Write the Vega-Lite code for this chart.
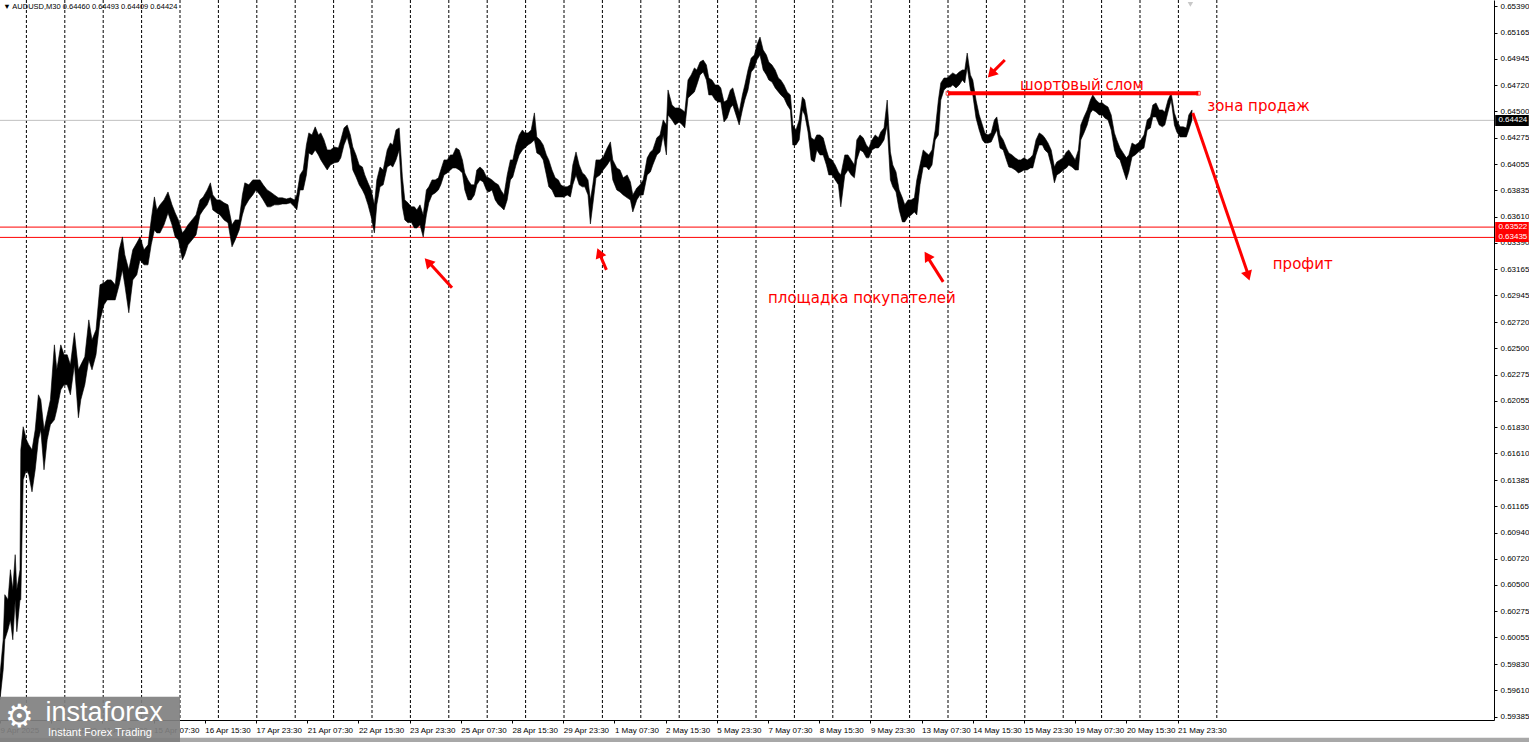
{
"$schema":"https://vega.github.io/schema/vega-lite/v6.json",
"width":1494,"height":720,
"autosize":{"type":"none"},
"padding":{"left":0,"top":0,"right":35,"bottom":22},
"background":"white",
"view":{"stroke":null},
"config":{"font":"Liberation Sans","axis":{"labelOverlap":false,"labelBound":false,"labelFlush":false}},
"datasets":{
"price":[
{"b":0,"hi":0.5974,"lo":0.59529},{"b":4,"hi":0.60035,"lo":0.59782},{"b":6,"hi":0.60416,"lo":0.60035},{"b":10,"hi":0.60373,"lo":0.6012},{"b":13,"hi":0.60627,"lo":0.60204},{"b":16,"hi":0.60458,"lo":0.60035},{"b":19,"hi":0.60754,"lo":0.60373},{"b":21,"hi":0.60458,"lo":0.60103},{"b":25,"hi":0.60627,"lo":0.60373},{"b":26,"hi":0.6164,"lo":0.60373},{"b":29,"hi":0.61835,"lo":0.61387},{"b":33,"hi":0.61725,"lo":0.61471},{"b":36,"hi":0.61683,"lo":0.61429},{"b":40,"hi":0.6164,"lo":0.61285},{"b":44,"hi":0.61809,"lo":0.61471},{"b":48,"hi":0.62105,"lo":0.61725},{"b":51,"hi":0.62063,"lo":0.61809},{"b":55,"hi":0.61809,"lo":0.61471},{"b":59,"hi":0.61936,"lo":0.61725},{"b":63,"hi":0.62063,"lo":0.61852},{"b":68,"hi":0.62527,"lo":0.61894},{"b":71,"hi":0.62316,"lo":0.61978},{"b":76,"hi":0.62527,"lo":0.62147},{"b":80,"hi":0.62443,"lo":0.6219},{"b":84,"hi":0.62443,"lo":0.6219},{"b":88,"hi":0.62358,"lo":0.62105},{"b":93,"hi":0.62629,"lo":0.62358},{"b":98,"hi":0.62316,"lo":0.61911},{"b":101,"hi":0.62358,"lo":0.62063},{"b":106,"hi":0.62426,"lo":0.6219},{"b":111,"hi":0.62738,"lo":0.624},{"b":115,"hi":0.62569,"lo":0.62316},{"b":120,"hi":0.62654,"lo":0.62443},{"b":125,"hi":0.63034,"lo":0.62738},{"b":130,"hi":0.63051,"lo":0.62865},{"b":134,"hi":0.63076,"lo":0.62907},{"b":139,"hi":0.63076,"lo":0.62907},{"b":144,"hi":0.63034,"lo":0.62907},{"b":149,"hi":0.6333,"lo":0.63034},{"b":153,"hi":0.63439,"lo":0.63161},{"b":156,"hi":0.63288,"lo":0.63034},{"b":161,"hi":0.63161,"lo":0.62798},{"b":166,"hi":0.6333,"lo":0.63076},{"b":171,"hi":0.63389,"lo":0.63119},{"b":175,"hi":0.63439,"lo":0.63245},{"b":180,"hi":0.6333,"lo":0.63203},{"b":185,"hi":0.63372,"lo":0.63203},{"b":189,"hi":0.63583,"lo":0.63372},{"b":193,"hi":0.63777,"lo":0.63498},{"b":196,"hi":0.63667,"lo":0.63473},{"b":200,"hi":0.6371,"lo":0.63473},{"b":205,"hi":0.63752,"lo":0.63541},{"b":210,"hi":0.63819,"lo":0.63642},{"b":215,"hi":0.6371,"lo":0.63541},{"b":219,"hi":0.63642,"lo":0.63439},{"b":223,"hi":0.63583,"lo":0.63414},{"b":228,"hi":0.63473,"lo":0.63245},{"b":231,"hi":0.63498,"lo":0.63288},{"b":235,"hi":0.63541,"lo":0.63372},{"b":240,"hi":0.63583,"lo":0.63414},{"b":245,"hi":0.63625,"lo":0.63456},{"b":250,"hi":0.63752,"lo":0.63625},{"b":254,"hi":0.63777,"lo":0.63667},{"b":259,"hi":0.63836,"lo":0.6371},{"b":263,"hi":0.63896,"lo":0.63777},{"b":266,"hi":0.63794,"lo":0.63667},{"b":271,"hi":0.63752,"lo":0.63642},{"b":275,"hi":0.63752,"lo":0.63625},{"b":280,"hi":0.63727,"lo":0.63583},{"b":285,"hi":0.6371,"lo":0.63558},{"b":290,"hi":0.63541,"lo":0.63355},{"b":294,"hi":0.63583,"lo":0.63414},{"b":299,"hi":0.63583,"lo":0.63498},{"b":303,"hi":0.63794,"lo":0.63625},{"b":306,"hi":0.63896,"lo":0.63693},{"b":311,"hi":0.63879,"lo":0.63752},{"b":316,"hi":0.63921,"lo":0.63794},{"b":320,"hi":0.63921,"lo":0.63836},{"b":325,"hi":0.63921,"lo":0.63794},{"b":329,"hi":0.63879,"lo":0.63752},{"b":334,"hi":0.63836,"lo":0.63693},{"b":338,"hi":0.63819,"lo":0.63693},{"b":343,"hi":0.63794,"lo":0.6371},{"b":348,"hi":0.63769,"lo":0.6371},{"b":353,"hi":0.63769,"lo":0.63718},{"b":358,"hi":0.6376,"lo":0.63718},{"b":363,"hi":0.63769,"lo":0.63727},{"b":368,"hi":0.63752,"lo":0.63693},{"b":371,"hi":0.63794,"lo":0.63667},{"b":375,"hi":0.63963,"lo":0.63836},{"b":379,"hi":0.64005,"lo":0.63836},{"b":383,"hi":0.64216,"lo":0.63963},{"b":386,"hi":0.64318,"lo":0.64149},{"b":390,"hi":0.64301,"lo":0.64132},{"b":394,"hi":0.64369,"lo":0.64174},{"b":398,"hi":0.64301,"lo":0.64132},{"b":401,"hi":0.64318,"lo":0.6409},{"b":405,"hi":0.64259,"lo":0.64047},{"b":409,"hi":0.64174,"lo":0.64005},{"b":413,"hi":0.64174,"lo":0.64047},{"b":418,"hi":0.64199,"lo":0.64065},{"b":423,"hi":0.64191,"lo":0.64073},{"b":426,"hi":0.64259,"lo":0.64107},{"b":430,"hi":0.6436,"lo":0.64216},{"b":434,"hi":0.64385,"lo":0.64284},{"b":438,"hi":0.64301,"lo":0.64174},{"b":441,"hi":0.64199,"lo":0.64005},{"b":445,"hi":0.64132,"lo":0.63946},{"b":449,"hi":0.64047,"lo":0.63879},{"b":453,"hi":0.6403,"lo":0.63836},{"b":456,"hi":0.63963,"lo":0.63794},{"b":460,"hi":0.63896,"lo":0.6371},{"b":464,"hi":0.63836,"lo":0.63608},{"b":468,"hi":0.6371,"lo":0.63473},{"b":471,"hi":0.63921,"lo":0.6371},{"b":475,"hi":0.6403,"lo":0.63862},{"b":479,"hi":0.64005,"lo":0.63879},{"b":484,"hi":0.64174,"lo":0.6403},{"b":488,"hi":0.64233,"lo":0.64047},{"b":491,"hi":0.64216,"lo":0.6403},{"b":495,"hi":0.64343,"lo":0.6409},{"b":499,"hi":0.6436,"lo":0.64174},{"b":503,"hi":0.63946,"lo":0.63693},{"b":506,"hi":0.63752,"lo":0.63583},{"b":510,"hi":0.63727,"lo":0.63558},{"b":514,"hi":0.63693,"lo":0.63566},{"b":518,"hi":0.63693,"lo":0.63515},{"b":521,"hi":0.63667,"lo":0.63515},{"b":525,"hi":0.6371,"lo":0.63541},{"b":529,"hi":0.63625,"lo":0.63439},{"b":533,"hi":0.63836,"lo":0.63625},{"b":536,"hi":0.63862,"lo":0.63727},{"b":540,"hi":0.63921,"lo":0.63794},{"b":544,"hi":0.63921,"lo":0.63811},{"b":548,"hi":0.63938,"lo":0.63836},{"b":551,"hi":0.64005,"lo":0.63879},{"b":555,"hi":0.6409,"lo":0.63963},{"b":559,"hi":0.6409,"lo":0.6398},{"b":563,"hi":0.64132,"lo":0.64005},{"b":566,"hi":0.64132,"lo":0.64022},{"b":570,"hi":0.64191,"lo":0.64022},{"b":574,"hi":0.64174,"lo":0.64005},{"b":578,"hi":0.6409,"lo":0.6398},{"b":581,"hi":0.6398,"lo":0.63836},{"b":585,"hi":0.63921,"lo":0.63752},{"b":589,"hi":0.63879,"lo":0.63752},{"b":593,"hi":0.63879,"lo":0.63794},{"b":596,"hi":0.64005,"lo":0.63879},{"b":600,"hi":0.6403,"lo":0.63921},{"b":604,"hi":0.64005,"lo":0.63904},{"b":608,"hi":0.63946,"lo":0.63836},{"b":611,"hi":0.63938,"lo":0.63819},{"b":615,"hi":0.63921,"lo":0.63836},{"b":619,"hi":0.63896,"lo":0.63752},{"b":623,"hi":0.63879,"lo":0.6371},{"b":626,"hi":0.63836,"lo":0.63693},{"b":630,"hi":0.63794,"lo":0.63667},{"b":634,"hi":0.63963,"lo":0.63752},{"b":638,"hi":0.6409,"lo":0.63921},{"b":641,"hi":0.6409,"lo":0.63946},{"b":645,"hi":0.64216,"lo":0.64047},{"b":649,"hi":0.64301,"lo":0.64132},{"b":653,"hi":0.64343,"lo":0.64174},{"b":656,"hi":0.64318,"lo":0.64191},{"b":660,"hi":0.64318,"lo":0.64216},{"b":664,"hi":0.64343,"lo":0.64233},{"b":668,"hi":0.64487,"lo":0.64259},{"b":671,"hi":0.64284,"lo":0.64149},{"b":675,"hi":0.64259,"lo":0.64132},{"b":679,"hi":0.64216,"lo":0.6409},{"b":683,"hi":0.64132,"lo":0.63963},{"b":686,"hi":0.6409,"lo":0.63862},{"b":690,"hi":0.64005,"lo":0.63836},{"b":694,"hi":0.63938,"lo":0.63777},{"b":698,"hi":0.63921,"lo":0.63777},{"b":701,"hi":0.63879,"lo":0.63777},{"b":705,"hi":0.63862,"lo":0.63777},{"b":709,"hi":0.63862,"lo":0.63794},{"b":713,"hi":0.63879,"lo":0.63777},{"b":716,"hi":0.64047,"lo":0.63879},{"b":720,"hi":0.64157,"lo":0.63963},{"b":724,"hi":0.64047,"lo":0.63879},{"b":728,"hi":0.6398,"lo":0.63862},{"b":731,"hi":0.63963,"lo":0.63862},{"b":735,"hi":0.63921,"lo":0.63794},{"b":738,"hi":0.63752,"lo":0.63549},{"b":741,"hi":0.63879,"lo":0.6371},{"b":745,"hi":0.6409,"lo":0.63938},{"b":750,"hi":0.6409,"lo":0.63963},{"b":754,"hi":0.64115,"lo":0.64005},{"b":759,"hi":0.64191,"lo":0.64047},{"b":763,"hi":0.64242,"lo":0.6409},{"b":766,"hi":0.6409,"lo":0.63921},{"b":771,"hi":0.64022,"lo":0.63836},{"b":775,"hi":0.64005,"lo":0.63819},{"b":779,"hi":0.63938,"lo":0.63794},{"b":784,"hi":0.63963,"lo":0.63769},{"b":788,"hi":0.63904,"lo":0.63752},{"b":791,"hi":0.63794,"lo":0.6365},{"b":796,"hi":0.63853,"lo":0.63752},{"b":800,"hi":0.63879,"lo":0.63794},{"b":804,"hi":0.63921,"lo":0.63794},{"b":809,"hi":0.64107,"lo":0.63963},{"b":813,"hi":0.64157,"lo":0.63988},{"b":816,"hi":0.64174,"lo":0.64047},{"b":821,"hi":0.64276,"lo":0.64132},{"b":825,"hi":0.64301,"lo":0.64157},{"b":829,"hi":0.64428,"lo":0.64301},{"b":833,"hi":0.64385,"lo":0.64132},{"b":835,"hi":0.64681,"lo":0.6447},{"b":840,"hi":0.64554,"lo":0.64428},{"b":844,"hi":0.64529,"lo":0.64385},{"b":849,"hi":0.64529,"lo":0.64411},{"b":853,"hi":0.64512,"lo":0.64385},{"b":856,"hi":0.64495,"lo":0.6436},{"b":860,"hi":0.64765,"lo":0.64613},{"b":864,"hi":0.64808,"lo":0.64639},{"b":868,"hi":0.64867,"lo":0.64664},{"b":871,"hi":0.6485,"lo":0.64723},{"b":875,"hi":0.64917,"lo":0.64808},{"b":879,"hi":0.64934,"lo":0.64833},{"b":883,"hi":0.64892,"lo":0.64765},{"b":886,"hi":0.64782,"lo":0.64639},{"b":890,"hi":0.64765,"lo":0.64639},{"b":894,"hi":0.64723,"lo":0.64596},{"b":898,"hi":0.64723,"lo":0.64579},{"b":901,"hi":0.64698,"lo":0.64579},{"b":905,"hi":0.64579,"lo":0.64411},{"b":909,"hi":0.64596,"lo":0.64444},{"b":913,"hi":0.64681,"lo":0.64529},{"b":916,"hi":0.64698,"lo":0.64554},{"b":920,"hi":0.64596,"lo":0.6447},{"b":924,"hi":0.64495,"lo":0.64385},{"b":928,"hi":0.64639,"lo":0.64512},{"b":931,"hi":0.64723,"lo":0.64596},{"b":935,"hi":0.6485,"lo":0.64681},{"b":939,"hi":0.64951,"lo":0.64833},{"b":943,"hi":0.64976,"lo":0.64867},{"b":946,"hi":0.65061,"lo":0.64934},{"b":950,"hi":0.65128,"lo":0.64976},{"b":954,"hi":0.65019,"lo":0.6485},{"b":958,"hi":0.64976,"lo":0.64808},{"b":961,"hi":0.64917,"lo":0.64765},{"b":965,"hi":0.64892,"lo":0.64748},{"b":969,"hi":0.6485,"lo":0.64698},{"b":973,"hi":0.64782,"lo":0.64664},{"b":976,"hi":0.64765,"lo":0.64639},{"b":980,"hi":0.64723,"lo":0.64613},{"b":984,"hi":0.64664,"lo":0.64554},{"b":988,"hi":0.64639,"lo":0.64512},{"b":991,"hi":0.64385,"lo":0.64216},{"b":995,"hi":0.64343,"lo":0.64216},{"b":999,"hi":0.64428,"lo":0.64259},{"b":1003,"hi":0.64622,"lo":0.64512},{"b":1006,"hi":0.64596,"lo":0.6447},{"b":1010,"hi":0.64428,"lo":0.64326},{"b":1014,"hi":0.64276,"lo":0.6409},{"b":1018,"hi":0.64259,"lo":0.64073},{"b":1021,"hi":0.64301,"lo":0.64174},{"b":1025,"hi":0.64301,"lo":0.64132},{"b":1029,"hi":0.64276,"lo":0.64132},{"b":1033,"hi":0.64174,"lo":0.64047},{"b":1036,"hi":0.64107,"lo":0.63963},{"b":1040,"hi":0.6409,"lo":0.63963},{"b":1044,"hi":0.64047,"lo":0.63921},{"b":1048,"hi":0.63988,"lo":0.63879},{"b":1051,"hi":0.63963,"lo":0.63693},{"b":1056,"hi":0.64132,"lo":0.63963},{"b":1060,"hi":0.64132,"lo":0.64005},{"b":1064,"hi":0.6409,"lo":0.63963},{"b":1068,"hi":0.64047,"lo":0.63938},{"b":1071,"hi":0.64259,"lo":0.6409},{"b":1075,"hi":0.64301,"lo":0.64174},{"b":1079,"hi":0.64276,"lo":0.64157},{"b":1083,"hi":0.64216,"lo":0.64107},{"b":1086,"hi":0.64191,"lo":0.64107},{"b":1090,"hi":0.64259,"lo":0.64174},{"b":1094,"hi":0.64301,"lo":0.64191},{"b":1098,"hi":0.64276,"lo":0.64191},{"b":1101,"hi":0.64326,"lo":0.64216},{"b":1105,"hi":0.6436,"lo":0.64259},{"b":1109,"hi":0.64596,"lo":0.64385},{"b":1113,"hi":0.64157,"lo":0.63921},{"b":1116,"hi":0.64047,"lo":0.63862},{"b":1120,"hi":0.63988,"lo":0.63819},{"b":1124,"hi":0.63836,"lo":0.63667},{"b":1128,"hi":0.63769,"lo":0.63566},{"b":1131,"hi":0.6371,"lo":0.63566},{"b":1135,"hi":0.63752,"lo":0.63608},{"b":1139,"hi":0.63752,"lo":0.63625},{"b":1143,"hi":0.63769,"lo":0.6365},{"b":1146,"hi":0.63921,"lo":0.63625},{"b":1150,"hi":0.64047,"lo":0.63879},{"b":1154,"hi":0.64174,"lo":0.6403},{"b":1158,"hi":0.64149,"lo":0.6403},{"b":1161,"hi":0.64132,"lo":0.64005},{"b":1165,"hi":0.64174,"lo":0.64047},{"b":1169,"hi":0.64343,"lo":0.64259},{"b":1173,"hi":0.64596,"lo":0.64301},{"b":1176,"hi":0.6474,"lo":0.64596},{"b":1180,"hi":0.64782,"lo":0.64681},{"b":1184,"hi":0.64782,"lo":0.64706},{"b":1188,"hi":0.64808,"lo":0.64706},{"b":1191,"hi":0.64825,"lo":0.64723},{"b":1195,"hi":0.64808,"lo":0.64698},{"b":1199,"hi":0.64833,"lo":0.64723},{"b":1203,"hi":0.6485,"lo":0.64765},{"b":1206,"hi":0.6485,"lo":0.6474},{"b":1209,"hi":0.64993,"lo":0.64875},{"b":1213,"hi":0.64808,"lo":0.64681},{"b":1216,"hi":0.64765,"lo":0.64639},{"b":1220,"hi":0.64596,"lo":0.64444},{"b":1224,"hi":0.6447,"lo":0.64343},{"b":1228,"hi":0.64385,"lo":0.64259},{"b":1231,"hi":0.64318,"lo":0.64233},{"b":1235,"hi":0.64301,"lo":0.64233},{"b":1239,"hi":0.64318,"lo":0.64242},{"b":1243,"hi":0.64428,"lo":0.64301},{"b":1246,"hi":0.64453,"lo":0.64343},{"b":1250,"hi":0.64301,"lo":0.64191},{"b":1254,"hi":0.64259,"lo":0.64174},{"b":1258,"hi":0.64191,"lo":0.6409},{"b":1261,"hi":0.64149,"lo":0.6403},{"b":1265,"hi":0.64132,"lo":0.64022},{"b":1269,"hi":0.64107,"lo":0.64005},{"b":1273,"hi":0.6409,"lo":0.6398},{"b":1276,"hi":0.6409,"lo":0.63988},{"b":1280,"hi":0.64107,"lo":0.64005},{"b":1284,"hi":0.6409,"lo":0.64005},{"b":1288,"hi":0.64107,"lo":0.64022},{"b":1291,"hi":0.64132,"lo":0.64022},{"b":1295,"hi":0.64259,"lo":0.64132},{"b":1299,"hi":0.64318,"lo":0.64216},{"b":1303,"hi":0.64301,"lo":0.64216},{"b":1306,"hi":0.64276,"lo":0.64174},{"b":1310,"hi":0.64233,"lo":0.64149},{"b":1314,"hi":0.64174,"lo":0.64047},{"b":1318,"hi":0.6403,"lo":0.63896},{"b":1321,"hi":0.64073,"lo":0.63963},{"b":1325,"hi":0.6409,"lo":0.6398},{"b":1329,"hi":0.64107,"lo":0.64005},{"b":1333,"hi":0.64157,"lo":0.64022},{"b":1336,"hi":0.64174,"lo":0.64047},{"b":1340,"hi":0.64132,"lo":0.6403},{"b":1344,"hi":0.6409,"lo":0.64005},{"b":1348,"hi":0.64174,"lo":0.64005},{"b":1351,"hi":0.64385,"lo":0.64259},{"b":1355,"hi":0.64453,"lo":0.64318},{"b":1359,"hi":0.64512,"lo":0.64385},{"b":1363,"hi":0.64596,"lo":0.64487},{"b":1366,"hi":0.64639,"lo":0.64512},{"b":1370,"hi":0.64596,"lo":0.64495},{"b":1374,"hi":0.64571,"lo":0.6447},{"b":1378,"hi":0.64571,"lo":0.6447},{"b":1381,"hi":0.64554,"lo":0.64444},{"b":1385,"hi":0.64537,"lo":0.64428},{"b":1389,"hi":0.6447,"lo":0.64343},{"b":1393,"hi":0.64318,"lo":0.64174},{"b":1396,"hi":0.64259,"lo":0.64115},{"b":1400,"hi":0.64191,"lo":0.6409},{"b":1404,"hi":0.64149,"lo":0.64005},{"b":1408,"hi":0.64107,"lo":0.63921},{"b":1411,"hi":0.64132,"lo":0.63988},{"b":1415,"hi":0.64233,"lo":0.64115},{"b":1419,"hi":0.64216,"lo":0.64132},{"b":1423,"hi":0.64233,"lo":0.64157},{"b":1426,"hi":0.64259,"lo":0.64174},{"b":1430,"hi":0.64301,"lo":0.64191},{"b":1434,"hi":0.64428,"lo":0.64343},{"b":1438,"hi":0.64453,"lo":0.6436},{"b":1441,"hi":0.64554,"lo":0.64453},{"b":1445,"hi":0.64571,"lo":0.64453},{"b":1449,"hi":0.64512,"lo":0.64385},{"b":1453,"hi":0.64512,"lo":0.64369},{"b":1456,"hi":0.64495,"lo":0.64385},{"b":1460,"hi":0.64596,"lo":0.64495},{"b":1464,"hi":0.64656,"lo":0.64596},{"b":1468,"hi":0.64487,"lo":0.64385},{"b":1471,"hi":0.64428,"lo":0.64326},{"b":1475,"hi":0.64369,"lo":0.64284},{"b":1479,"hi":0.64369,"lo":0.64284},{"b":1483,"hi":0.6436,"lo":0.64284},{"b":1486,"hi":0.6447,"lo":0.64343},{"b":1490,"hi":0.64512,"lo":0.64428}
],
"days":[{"b":33},{"b":81},{"b":129},{"b":177},{"b":225},{"b":273},{"b":321},{"b":369},{"b":417},{"b":465},{"b":513},{"b":561},{"b":609},{"b":657},{"b":705},{"b":753},{"b":801},{"b":849},{"b":897},{"b":945},{"b":993},{"b":1041},{"b":1089},{"b":1137},{"b":1185},{"b":1233},{"b":1281},{"b":1329},{"b":1377},{"b":1425},{"b":1473},{"b":1521}],
"redLevels":[{"p":0.63522},{"p":0.63435}],
"arrows":[
{"b":565,"p":0.63009,"b2":538,"p2":0.63211,"hb":535,"hp":0.63228,"ang":318},
{"b":758,"p":0.63161,"b2":750,"p2":0.63288,"hb":749,"hp":0.63304,"ang":338},
{"b":1179,"p":0.63059,"b2":1160,"p2":0.63262,"hb":1159,"hp":0.63279,"ang":328},
{"b":1256,"p":0.64934,"b2":1240,"p2":0.64825,"hb":1239,"hp":0.64816,"ang":223},
{"b":1491,"p":0.64487,"b2":1559,"p2":0.63144,"hb":1560,"hp":0.6311,"ang":162}
],
"notes":[
{"b":1275,"p":0.64723,"t":"шортовый слом"},
{"b":1509,"p":0.64546,"t":"зона продаж"},
{"b":1591,"p":0.63211,"t":"профит"},
{"b":960,"p":0.62924,"t":"площадка покупателей"}
],
"tags":[
{"p":0.64424,"p1":0.6447,"p2":0.64377,"k":"cur"},
{"p":0.63522,"p1":0.63566,"p2":0.63481,"k":"lvl"},
{"p":0.63435,"p1":0.63481,"p2":0.63397,"k":"lvl"}
]
},
"layer":[
{"data":{"name":"days"},"mark":{"type":"rule","color":"black","strokeWidth":1,"strokeDash":[3,2]},
 "encoding":{"x":{"field":"b","type":"quantitative","title":null,"scale":{"domain":[0,1867.5],"nice":false,"zero":false}}}},
{"data":{"values":[{"p":0.64424}]},"mark":{"type":"rule","color":"#c0c0c0","strokeWidth":1},
 "encoding":{"y":{"field":"p","type":"quantitative","title":null,"scale":{"domain":[0.59357,0.65441],"nice":false,"zero":false}}}},
{"data":{"name":"redLevels"},"mark":{"type":"rule","color":"#ff0000","strokeWidth":1},
 "encoding":{"y":{"field":"p","type":"quantitative","title":null,"scale":{"domain":[0.59357,0.65441],"nice":false,"zero":false}}}},
{"data":{"name":"price"},"mark":{"type":"area","color":"black","stroke":"black","strokeWidth":0.6,"interpolate":"linear"},
 "encoding":{
  "x":{"field":"b","type":"quantitative","title":null,"scale":{"domain":[0,1867.5],"nice":false,"zero":false},
   "axis":{"orient":"bottom","title":null,"tickCount":60,"values":[0,64,128,192,256,320,384,448,512,576,640,704,768,832,896,960,1024,1088,1152,1216,1280,1344,1408,1472],
    "labelExpr":"['9 Apr 2025','10 Apr 15:30','11 Apr 23:30','15 Apr 07:30','16 Apr 15:30','17 Apr 23:30','21 Apr 07:30','22 Apr 15:30','23 Apr 23:30','25 Apr 07:30','28 Apr 15:30','29 Apr 23:30','1 May 07:30','2 May 15:30','5 May 23:30','7 May 07:30','8 May 15:30','9 May 23:30','13 May 07:30','14 May 15:30','15 May 23:30','19 May 07:30','20 May 15:30','21 May 23:30'][round(datum.value/64)]",
    "labelAlign":"left","labelFontSize":8,"labelColor":"black","labelFont":"Liberation Sans","labelPadding":3,"labelOverlap":false,"labelFlush":false,
    "tickSize":3,"tickColor":"black","domainColor":"black","domainWidth":1,"grid":false}},
  "y":{"field":"hi","type":"quantitative","title":null,"scale":{"domain":[0.59357,0.65441],"nice":false,"zero":false},
   "axis":{"orient":"right","title":null,"tickCount":60,"values":[0.6539,0.65165,0.64945,0.6472,0.645,0.64275,0.64055,0.63835,0.6361,0.6339,0.63165,0.62945,0.6272,0.625,0.62275,0.62055,0.6183,0.6161,0.61385,0.61165,0.6094,0.6072,0.605,0.60275,0.60055,0.5983,0.5961,0.59385],
    "format":".5f","labelFontSize":8,"labelColor":"black","labelFont":"Liberation Sans","labelPadding":3,"labelOverlap":false,"labelFlush":false,"labelBound":false,
    "tickSize":3,"tickColor":"black","domainColor":"black","domainWidth":1,"grid":false}},
  "y2":{"field":"lo"}}},
{"data":{"values":[{"b":1185,"b2":1498,"p":0.64653}]},"mark":{"type":"rule","color":"#ff0000","strokeWidth":4},
 "encoding":{"x":{"field":"b","type":"quantitative","title":null,"scale":{"domain":[0,1867.5],"nice":false,"zero":false}},"x2":{"field":"b2"},
  "y":{"field":"p","type":"quantitative","title":null,"scale":{"domain":[0.59357,0.65441],"nice":false,"zero":false}}}},
{"data":{"values":[{"b":1185,"p":0.64653},{"b":1498,"p":0.64653}]},"mark":{"type":"point","shape":"square","color":"#ff0000","filled":false,"size":14,"strokeWidth":1},
 "encoding":{"x":{"field":"b","type":"quantitative","title":null,"scale":{"domain":[0,1867.5],"nice":false,"zero":false}},
  "y":{"field":"p","type":"quantitative","title":null,"scale":{"domain":[0.59357,0.65441],"nice":false,"zero":false}}}},
{"data":{"name":"arrows"},"mark":{"type":"rule","color":"#ff0000","strokeWidth":3},
 "encoding":{"x":{"field":"b","type":"quantitative","title":null,"scale":{"domain":[0,1867.5],"nice":false,"zero":false}},"x2":{"field":"b2"},
  "y":{"field":"p","type":"quantitative","title":null,"scale":{"domain":[0.59357,0.65441],"nice":false,"zero":false}},"y2":{"field":"p2"}}},
{"data":{"name":"arrows"},"mark":{"type":"point","shape":"triangle-up","color":"#ff0000","filled":true,"opacity":1,"size":130},
 "encoding":{"x":{"field":"hb","type":"quantitative","title":null,"scale":{"domain":[0,1867.5],"nice":false,"zero":false}},
  "y":{"field":"hp","type":"quantitative","title":null,"scale":{"domain":[0.59357,0.65441],"nice":false,"zero":false}},
  "angle":{"field":"ang","type":"quantitative","scale":null}}},
{"data":{"name":"notes"},"mark":{"type":"text","color":"#ff0000","font":"DejaVu Sans","fontSize":15,"align":"left","baseline":"middle"},
 "encoding":{"x":{"field":"b","type":"quantitative","title":null,"scale":{"domain":[0,1867.5],"nice":false,"zero":false}},
  "y":{"field":"p","type":"quantitative","title":null,"scale":{"domain":[0.59357,0.65441],"nice":false,"zero":false}},
  "text":{"field":"t"}}},
{"data":{"name":"tags"},"mark":{"type":"rect"},
 "encoding":{"x":{"datum":1869,"type":"quantitative","title":null,"scale":{"domain":[0,1867.5],"nice":false,"zero":false}},"x2":{"datum":1911},
  "y":{"field":"p1","type":"quantitative","title":null,"scale":{"domain":[0.59357,0.65441],"nice":false,"zero":false}},"y2":{"field":"p2"},
  "color":{"field":"k","type":"nominal","scale":{"domain":["cur","lvl"],"range":["#000000","#ff0000"]},"legend":null}}},
{"data":{"name":"tags"},"mark":{"type":"text","color":"white","font":"Liberation Sans","fontSize":8,"align":"left","baseline":"middle"},
 "encoding":{"x":{"datum":1873,"type":"quantitative","title":null,"scale":{"domain":[0,1867.5],"nice":false,"zero":false}},
  "y":{"field":"p","type":"quantitative","title":null,"scale":{"domain":[0.59357,0.65441],"nice":false,"zero":false}},
  "text":{"field":"p","type":"quantitative","format":".5f"}}},
{"data":{"values":[{"t":"▼ AUDUSD,M30  0.64460 0.64493 0.64409 0.64424"}]},"mark":{"type":"text","color":"black","font":"Liberation Sans","fontSize":7.5,"align":"left","baseline":"middle"},
 "encoding":{"x":{"datum":4,"type":"quantitative","title":null,"scale":{"domain":[0,1867.5],"nice":false,"zero":false}},
  "y":{"datum":0.65382,"type":"quantitative","title":null,"scale":{"domain":[0.59357,0.65441],"nice":false,"zero":false}},
  "text":{"field":"t"}}},
{"data":{"values":[{"a":0}]},"mark":{"type":"point","shape":"triangle-down","color":"#c8c8c8","filled":true,"opacity":1,"size":30},
 "encoding":{"x":{"datum":1488,"type":"quantitative","title":null,"scale":{"domain":[0,1867.5],"nice":false,"zero":false}},
  "y":{"datum":0.65405,"type":"quantitative","title":null,"scale":{"domain":[0.59357,0.65441],"nice":false,"zero":false}}}},
{"data":{"values":[{"a":0}]},"mark":{"type":"rect","color":"#a8a8a8"},
 "encoding":{"x":{"datum":0,"type":"quantitative","title":null,"scale":{"domain":[0,1867.5],"nice":false,"zero":false}},"x2":{"datum":1925},
  "y":{"datum":0.59207,"type":"quantitative","title":null,"scale":{"domain":[0.59357,0.65441],"nice":false,"zero":false}},"y2":{"datum":0.5914}}},
{"data":{"values":[{"a":0}]},"mark":{"type":"rect","color":"#808080","opacity":0.92},
 "encoding":{"x":{"datum":0,"type":"quantitative","title":null,"scale":{"domain":[0,1867.5],"nice":false,"zero":false}},"x2":{"datum":225},
  "y":{"datum":0.59554,"type":"quantitative","title":null,"scale":{"domain":[0.59357,0.65441],"nice":false,"zero":false}},"y2":{"datum":0.5917}}},
{"data":{"values":[{"b":6,"p":0.59385,"t":"⚙","s":32,"f":"DejaVu Sans"},{"b":57,"p":0.59419,"t":"instaforex","s":27,"f":"DejaVu Sans"},{"b":60,"p":0.5925,"t":"Instant Forex Trading","s":11,"f":"Liberation Sans"}]},
 "mark":{"type":"text","color":"white","align":"left","baseline":"middle"},
 "encoding":{"x":{"field":"b","type":"quantitative","title":null,"scale":{"domain":[0,1867.5],"nice":false,"zero":false}},
  "y":{"field":"p","type":"quantitative","title":null,"scale":{"domain":[0.59357,0.65441],"nice":false,"zero":false}},
  "text":{"field":"t"},"size":{"field":"s","type":"quantitative","scale":null},"font":{"field":"f"}}}
]
}
